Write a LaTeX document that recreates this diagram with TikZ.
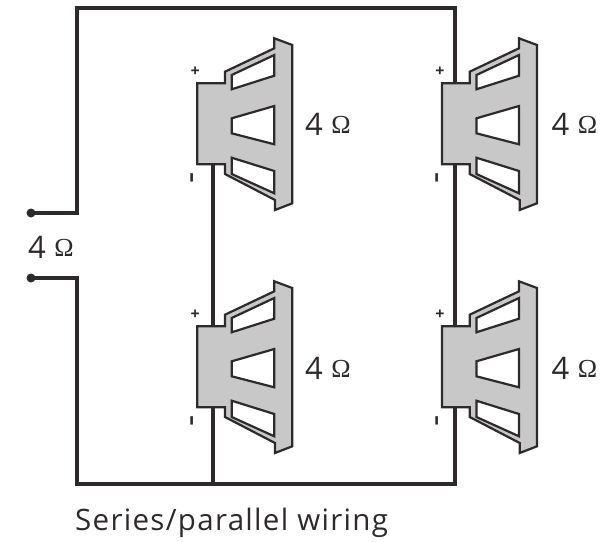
\documentclass[tikz,border=0pt]{standalone}
\usepackage{fontspec}
\setmainfont{Open Sans}
\newfontfamily\serifomega{Liberation Serif}
\definecolor{ink}{HTML}{2E2A2B}
\definecolor{cone}{HTML}{C8C8C8}
\newcommand{\fourohm}{4\hspace{8.5pt}\raisebox{2pt}{\serifomega\fontsize{26}{26}\selectfont Ω}}
\tikzset{
  wire/.style={draw=ink,line width=4.2pt,line join=miter},
  spk/.style={draw=ink,line width=2.2pt,fill=cone,line join=miter},
  win/.style={draw=ink,line width=2.2pt,fill=white,line join=miter},
  termdot/.style={circle,fill=ink,inner sep=0pt,minimum size=9pt},
  ohm/.style={inner sep=0pt,text=ink,anchor=base west,font=\fontsize{31}{33}\selectfont},
  pol/.style={inner sep=0pt,text=ink,font=\fontsize{16}{16}\selectfont\bfseries},
  polminus/.style={inner sep=0pt,text=ink,rotate=90,font=\fontsize{35}{35}\selectfont},
  titletext/.style={inner sep=0pt,text=ink,anchor=base west,font=\fontsize{29.5}{32}\selectfont\addfontfeature{LetterSpace=4.4}},
  speaker/.pic={
    \path[spk] (0,-40.7) -- (27.7,-40.7) -- (27.7,-52.3) -- (77,-75.7) -- (77,-85.7)
      -- (95,-79) -- (95,79.3) -- (77.7,86) -- (77.7,76) -- (27.7,50) -- (27.7,40.3)
      -- (0,40.3) -- cycle;
    \path[win] (34.4,-49) -- (77,-69) -- (77,-48.3) -- (34.4,-34.7) -- cycle;
    \path[win] (34.4,-5.7) -- (77,-18) -- (77,20.3) -- (34.4,9.3) -- cycle;
    \path[win] (34.4,33.7) -- (77,47) -- (77,69.3) -- (34.4,50) -- cycle;
    \coordinate (-top) at (15.7,-40.7);
    \coordinate (-bot) at (15.7,40.3);
    \node[pol] (-plus) at (-2,-52.5) {+};
    \node[polminus] (-minus) at (-1,53.5) {-};
  }
}
\begin{document}
\begin{tikzpicture}[x=1pt,y=-1pt]
\useasboundingbox (0,0) rectangle (605,541);
\coordinate (c1) at (77,213);
\coordinate (c2) at (77,8);
\coordinate (c3) at (455,8);
\coordinate (c4) at (77,278);
\coordinate (c5) at (77,484);
\coordinate (c6) at (455,484);
\coordinate (c7) at (213,484);
\node[termdot] (t1) at (31,213) {};
\node[termdot] (t2) at (31,278) {};
\draw[wire] (t1.center) -- (c1) -- (c2) -- (c3) -- (455,83.3);
\draw[wire] (t2.center) -- (c4) -- (c5) -- (c6) -- (455,407.3);
\draw[wire] (455,164.3) -- (455,326.3);
\draw[wire] (213,164.3) -- (c7);
\pic (tl) at (197.3,124) {speaker};
\pic (tr) at (442,124) {speaker};
\pic (bl) at (197.3,367) {speaker};
\pic (br) at (442,367) {speaker};
\node[ohm] (a1) at (305,135) {\fourohm};
\node[ohm] (a2) at (551.5,135) {\fourohm};
\node[ohm] (a3) at (305,379) {\fourohm};
\node[ohm] (a4) at (551.5,379) {\fourohm};
\node[ohm] (a5) at (28,258) {\fourohm};
\node[titletext] (title) at (75,530) {Series/parallel wiring};
\end{tikzpicture}
\end{document}
